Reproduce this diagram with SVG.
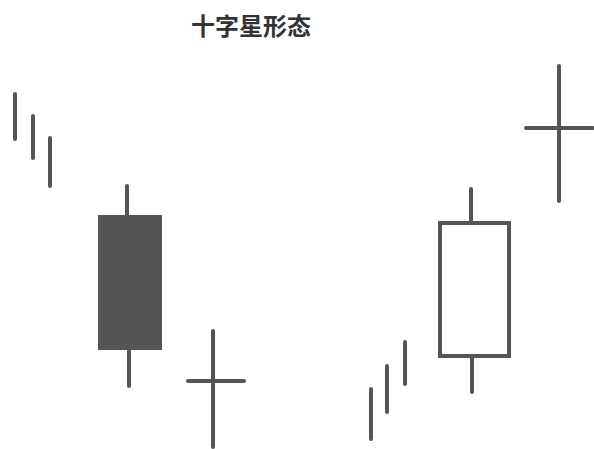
<svg xmlns="http://www.w3.org/2000/svg" width="594" height="449" viewBox="0 0 594 449">
<style>
.l{stroke:#555;stroke-width:4;stroke-linecap:round;fill:none}
.t{font-family:"Noto Sans CJK SC","Noto Sans",sans-serif;font-weight:bold;font-size:24px;fill:#333}
</style>
<rect width="594" height="449" fill="#fff"/>
<text class="t" x="251" y="35" text-anchor="middle">十字星形态</text>
<g id="down-trend">
<line class="l" x1="15" y1="94" x2="15" y2="139"/>
<line class="l" x1="33" y1="116" x2="33" y2="158"/>
<line class="l" x1="50" y1="138" x2="50" y2="186"/>
</g>
<g id="black-candle">
<line class="l" x1="127" y1="186" x2="127" y2="216"/>
<line class="l" x1="129" y1="350" x2="129" y2="386"/>
<rect x="98" y="215" width="64" height="135" fill="#555"/>
</g>
<g id="doji-1">
<line class="l" x1="213" y1="331" x2="213" y2="447"/>
<line class="l" x1="188" y1="381" x2="244" y2="381"/>
</g>
<g id="up-trend">
<line class="l" x1="371" y1="389" x2="371" y2="439"/>
<line class="l" x1="387" y1="366" x2="387" y2="412"/>
<line class="l" x1="405" y1="342" x2="405" y2="384"/>
</g>
<g id="white-candle">
<line class="l" x1="471" y1="189" x2="471" y2="223"/>
<line class="l" x1="472" y1="356" x2="472" y2="392"/>
<rect class="l" x="440" y="223" width="69" height="133" stroke-linecap="butt"/>
</g>
<g id="doji-2">
<line class="l" x1="559" y1="66" x2="559" y2="201"/>
<line class="l" x1="526" y1="128" x2="593" y2="128"/>
</g>
</svg>
